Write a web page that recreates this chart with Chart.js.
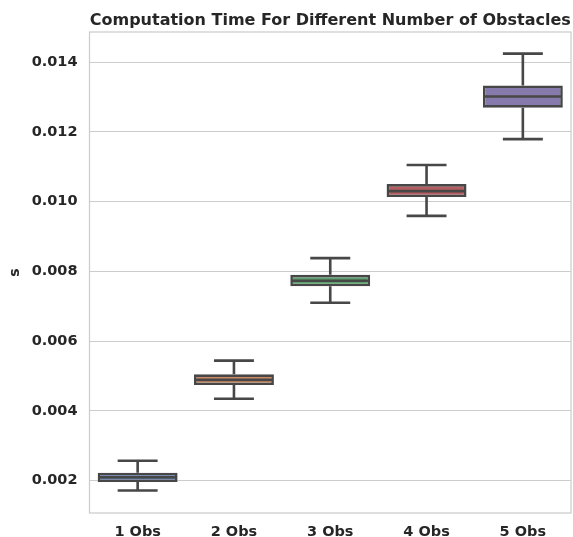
<!DOCTYPE html>
<html>
<head>
<meta charset="utf-8">
<script src="https://cdn.jsdelivr.net/npm/chart.js@4.4.1/dist/chart.umd.min.js"></script>
<style>
  html, body { margin: 0; padding: 0; background: #ffffff; }
  canvas { display: block; }
</style>
</head>
<body>
<canvas id="chart" width="573" height="537"></canvas>
<script>
// Computation time per obstacle count (seconds): box-plot summary values
const categories  = ['1 Obs', '2 Obs', '3 Obs', '4 Obs', '5 Obs'];
const whiskerLow  = [0.00172, 0.00435, 0.00710, 0.00959, 0.01179];
const quartile1   = [0.00196, 0.00474, 0.00757, 0.01013, 0.01269];
const medians     = [0.00210, 0.00489, 0.00773, 0.01030, 0.01301];
const quartile3   = [0.00223, 0.00505, 0.00790, 0.01050, 0.01333];
const whiskerHigh = [0.00257, 0.00544, 0.00838, 0.01105, 0.01424];
const yTicks      = [0.002, 0.004, 0.006, 0.008, 0.010, 0.012, 0.014];

const boxColors = ['#5975a4', '#cc8963', '#5f9e6e', '#b55d60', '#857aab'];
const lineColor = '#474747';
const textColor = '#262626';
const gridColor = '#cccccc';
const FONT = "'DejaVu Sans', 'Liberation Sans', sans-serif";

// Whiskers, caps and median lines, placed with the bar elements and the y scale
const boxExtras = {
  id: 'boxExtras',
  afterDatasetsDraw(chart) {
    const ctx = chart.ctx;
    const y = chart.scales.y;
    const meta = chart.getDatasetMeta(0);
    ctx.save();
    ctx.strokeStyle = lineColor;
    ctx.lineWidth = 2.6;
    ctx.lineCap = 'butt';
    meta.data.forEach((bar, i) => {
      const cx = bar.x;
      const half = bar.width / 2;
      const capHalf = bar.width / 4;
      const yLow = y.getPixelForValue(whiskerLow[i]);
      const yQ1 = y.getPixelForValue(quartile1[i]);
      const yMed = y.getPixelForValue(medians[i]);
      const yQ3 = y.getPixelForValue(quartile3[i]);
      const yHigh = y.getPixelForValue(whiskerHigh[i]);
      ctx.beginPath();
      // whiskers
      ctx.moveTo(cx, yQ3); ctx.lineTo(cx, yHigh);
      ctx.moveTo(cx, yQ1); ctx.lineTo(cx, yLow);
      // caps
      ctx.moveTo(cx - capHalf, yHigh); ctx.lineTo(cx + capHalf, yHigh);
      ctx.moveTo(cx - capHalf, yLow); ctx.lineTo(cx + capHalf, yLow);
      // median
      ctx.moveTo(cx - half + 1, yMed); ctx.lineTo(cx + half - 1, yMed);
      ctx.stroke();
    });
    ctx.restore();
  }
};

// Light frame around the plotting area
const plotFrame = {
  id: 'plotFrame',
  beforeDatasetsDraw(chart) {
    const { ctx, chartArea: a } = chart;
    ctx.save();
    ctx.strokeStyle = gridColor;
    ctx.lineWidth = 1.25;
    ctx.strokeRect(a.left, a.top, a.right - a.left, a.bottom - a.top);
    ctx.restore();
  }
};

// Bold title centred over the plotting area
const plotTitle = {
  id: 'plotTitle',
  afterDraw(chart) {
    const { ctx, chartArea: a } = chart;
    ctx.save();
    ctx.fillStyle = textColor;
    ctx.font = 'bold 16px ' + FONT;
    ctx.textAlign = 'center';
    ctx.textBaseline = 'alphabetic';
    ctx.fillText('Computation Time For Different Number of Obstacles', (a.left + a.right) / 2, 25);
    ctx.restore();
  }
};

new Chart(document.getElementById('chart'), {
  type: 'bar',
  data: {
    labels: categories,
    datasets: [{
      data: quartile1.map((q, i) => [q, quartile3[i]]),
      backgroundColor: boxColors,
      borderColor: lineColor,
      borderWidth: 2.6,
      borderSkipped: false,
      barPercentage: 0.83,
      categoryPercentage: 1.0
    }]
  },
  options: {
    responsive: false,
    devicePixelRatio: 1,
    animation: false,
    layout: { padding: { top: 32, left: 0, right: 2, bottom: 0 } },
    plugins: {
      legend: { display: false },
      tooltip: { enabled: false },
      title: { display: false }
    },
    scales: {
      x: {
        grid: { display: false, drawTicks: false },
        border: { display: false },
        ticks: {
          color: textColor,
          font: { family: FONT, size: 14.5, weight: 'bold' },
          padding: 11,
          maxRotation: 0
        },
        afterFit(scale) { scale.height = 24; }
      },
      y: {
        min: 0.001074,
        max: 0.01486,
        grid: { color: gridColor, lineWidth: 1, drawTicks: false },
        border: { display: false },
        afterBuildTicks(scale) { scale.ticks = yTicks.map(v => ({ value: v })); },
        ticks: {
          color: textColor,
          font: { family: FONT, size: 14.5, weight: 'bold' },
          padding: 12,
          callback: v => v.toFixed(3)
        },
        title: {
          display: true,
          text: 's',
          color: textColor,
          font: { family: FONT, size: 14, weight: 'bold' },
          padding: { top: 7, bottom: 0 }
        },
        afterFit(scale) { scale.width = 89.5; }
      }
    }
  },
  plugins: [plotFrame, boxExtras, plotTitle]
});
</script>
</body>
</html>
